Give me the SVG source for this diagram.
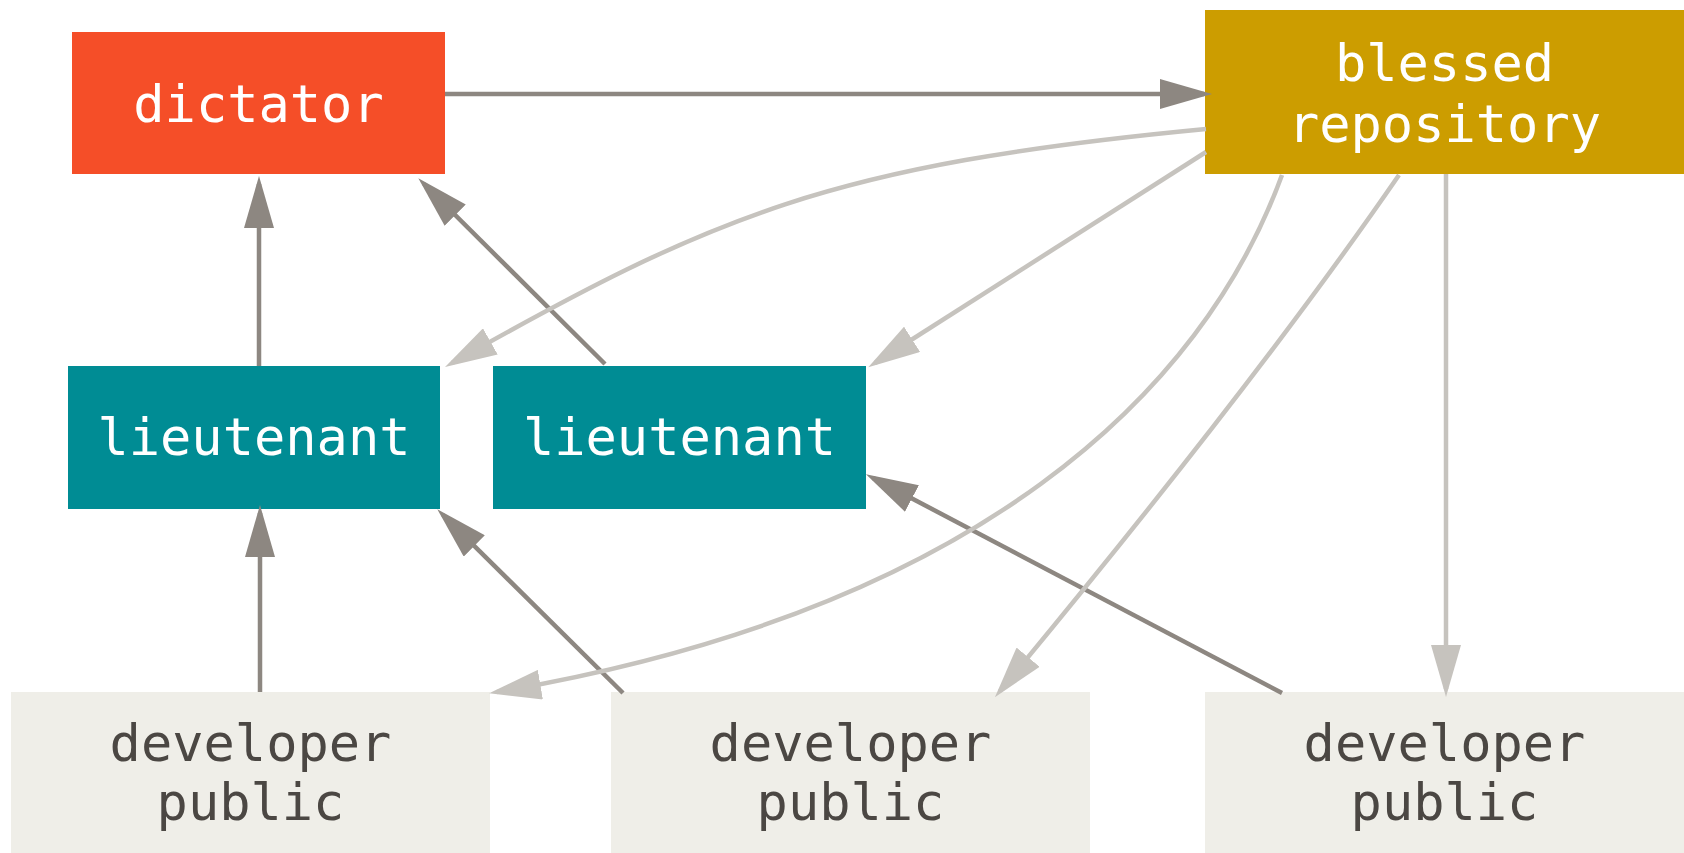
<svg xmlns="http://www.w3.org/2000/svg" width="1684" height="853" viewBox="0 0 1684 853">
<style>
text{font-family:"DejaVu Sans Mono","Liberation Mono",monospace;font-size:52px;text-anchor:middle}
.lt{fill:#ffffff}
.dk{fill:#4b4743}
.d{fill:none;stroke:#8d8781;stroke-width:4.5}
.l{fill:none;stroke:#c6c3be;stroke-width:4.5}
</style>
<defs>
<marker id="ad" viewBox="0 0 52 30" refX="44" refY="15" markerWidth="52" markerHeight="30" markerUnits="userSpaceOnUse" orient="auto"><path d="M0,0 L52,15 L0,30 z" fill="#8d8781"/></marker>
<marker id="al" viewBox="0 0 52 30" refX="44" refY="15" markerWidth="52" markerHeight="30" markerUnits="userSpaceOnUse" orient="auto"><path d="M0,0 L52,15 L0,30 z" fill="#c6c3be"/></marker>
</defs>
<rect width="1684" height="853" fill="#ffffff"/>
<g id="dictator"><rect x="72" y="32" width="373" height="142" fill="#f54e28"/><text class="lt" x="258.5" y="122">dictator</text></g>
<g id="blessed"><rect x="1205" y="10" width="479" height="164" fill="#cc9d00"/><text class="lt" x="1444.5" y="81">blessed</text><text class="lt" x="1444.5" y="142">repository</text></g>
<g id="lieutenant1"><rect x="68" y="366" width="372" height="143" fill="#008c94"/><text class="lt" x="254" y="455">lieutenant</text></g>
<g id="lieutenant2"><rect x="493" y="366" width="373" height="143" fill="#008c94"/><text class="lt" x="679.5" y="455">lieutenant</text></g>
<g id="developer1"><rect x="11" y="692" width="479" height="161" fill="#efeee8"/><text class="dk" x="250.5" y="761">developer</text><text class="dk" x="250.5" y="820">public</text></g>
<g id="developer2"><rect x="611" y="692" width="479" height="161" fill="#efeee8"/><text class="dk" x="850.5" y="761">developer</text><text class="dk" x="850.5" y="820">public</text></g>
<g id="developer3"><rect x="1205" y="692" width="479" height="161" fill="#efeee8"/><text class="dk" x="1444.5" y="761">developer</text><text class="dk" x="1444.5" y="820">public</text></g>
<g id="connectors">
<path class="d" marker-end="url(#ad)" d="M445,94 L1204,94"/>
<path class="d" marker-end="url(#ad)" d="M259,366 L259,184"/>
<path class="d" marker-end="url(#ad)" d="M605,364 L424,184"/>
<path class="d" marker-end="url(#ad)" d="M260,692 L260,513"/>
<path class="d" marker-end="url(#ad)" d="M623,693 L443,515"/>
<path class="d" marker-end="url(#ad)" d="M1282,693 L873,478"/>
<path class="l" marker-end="url(#al)" d="M1206,129 C828,165 713,216 452,363"/>
<path class="l" marker-end="url(#al)" d="M1206,152 L875,363"/>
<path class="l" marker-end="url(#al)" d="M1282,175 C1203,391 980,610 497,692"/>
<path class="l" marker-end="url(#al)" d="M1399,175 Q1255,384 1000,691"/>
<path class="l" marker-end="url(#al)" d="M1446,174 L1446,689"/>
</g>
</svg>
